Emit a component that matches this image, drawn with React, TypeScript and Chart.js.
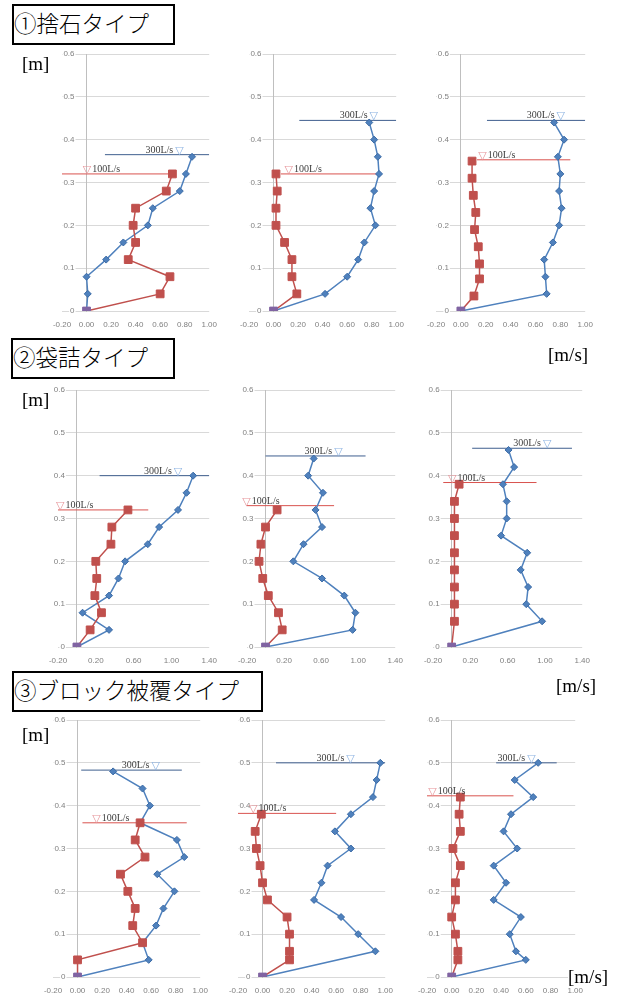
import React, { useEffect, useRef } from 'react';
import { Chart, registerables } from 'chart.js';

Chart.register(...registerables);

// ---------- tick labels ----------
const Y_TICKS = [0, 0.1, 0.2, 0.3, 0.4, 0.5, 0.6];
const X_TICKS_A = [-0.2, 0, 0.2, 0.4, 0.6, 0.8, 1.0];
const X_TICKS_B = [-0.2, 0.2, 0.6, 1.0, 1.4];

// ---------- ① 捨石タイプ ----------
const p1Height300 = [0, 0.04, 0.08, 0.12, 0.16, 0.2, 0.24, 0.28, 0.32, 0.36];
const p1Speed300 = [0, 0.01, 0.0, 0.16, 0.3, 0.5, 0.54, 0.76, 0.81, 0.86];
const p1Height100 = [0, 0.04, 0.08, 0.12, 0.16, 0.2, 0.24, 0.28, 0.32];
const p1Speed100 = [0, 0.6, 0.68, 0.34, 0.4, 0.38, 0.4, 0.65, 0.7];

const p2Height300 = [0, 0.04, 0.08, 0.12, 0.16, 0.2, 0.24, 0.28, 0.32, 0.36, 0.4, 0.44];
const p2Speed300 = [0, 0.42, 0.6, 0.69, 0.74, 0.83, 0.79, 0.82, 0.86, 0.85, 0.82, 0.78];
const p2Height100 = [0, 0.04, 0.08, 0.12, 0.16, 0.2, 0.24, 0.28, 0.32];
const p2Speed100 = [0, 0.19, 0.15, 0.15, 0.09, 0.02, 0.02, 0.03, 0.02];

const p3Height300 = [0, 0.04, 0.08, 0.12, 0.16, 0.2, 0.24, 0.28, 0.32, 0.36, 0.4, 0.44];
const p3Speed300 = [0, 0.69, 0.68, 0.67, 0.74, 0.79, 0.81, 0.79, 0.8, 0.78, 0.83, 0.75];
const p3Height100 = [0, 0.035, 0.075, 0.11, 0.15, 0.19, 0.23, 0.27, 0.31, 0.35];
const p3Speed100 = [0, 0.105, 0.15, 0.15, 0.14, 0.11, 0.12, 0.1, 0.09, 0.09];

// ---------- ② 袋詰タイプ ----------
const p4Height300 = [0, 0.04, 0.08, 0.12, 0.16, 0.2, 0.24, 0.28, 0.32, 0.36, 0.4];
const p4Speed300 = [0, 0.34, 0.06, 0.34, 0.44, 0.51, 0.75, 0.87, 1.07, 1.16, 1.23];
const p4Height100 = [0, 0.04, 0.08, 0.12, 0.16, 0.2, 0.24, 0.28, 0.32];
const p4Speed100 = [0, 0.14, 0.26, 0.19, 0.21, 0.2, 0.36, 0.37, 0.54];

const p5Height300 = [0, 0.04, 0.08, 0.12, 0.16, 0.2, 0.24, 0.28, 0.32, 0.36, 0.4, 0.44];
const p5Speed300 = [0, 0.94, 0.97, 0.85, 0.61, 0.3, 0.41, 0.61, 0.54, 0.62, 0.46, 0.52];
const p5Height100 = [0, 0.04, 0.08, 0.12, 0.16, 0.2, 0.24, 0.28, 0.32];
const p5Speed100 = [0, 0.18, 0.14, 0.03, -0.03, -0.07, -0.05, 0.0, 0.125];

const p6Height300 = [0, 0.06, 0.1, 0.14, 0.18, 0.22, 0.26, 0.3, 0.34, 0.38, 0.42, 0.46];
const p6Speed300 = [0, 0.97, 0.8, 0.82, 0.74, 0.81, 0.53, 0.59, 0.59, 0.55, 0.67, 0.61];
const p6Height100 = [0, 0.06, 0.1, 0.14, 0.18, 0.22, 0.26, 0.3, 0.34, 0.38];
const p6Speed100 = [0, 0.03, 0.03, 0.03, 0.03, 0.03, 0.03, 0.03, 0.03, 0.08];

// ---------- ③ ブロック被覆タイプ ----------
const p7Height300 = [0, 0.04, 0.08, 0.12, 0.16, 0.2, 0.24, 0.28, 0.32, 0.36, 0.4, 0.44, 0.48];
const p7Speed300 = [0, 0.58, 0.53, 0.64, 0.7, 0.79, 0.65, 0.87, 0.81, 0.51, 0.59, 0.53, 0.29];
const p7Height100 = [0, 0.04, 0.08, 0.12, 0.16, 0.2, 0.24, 0.28, 0.32, 0.36];
const p7Speed100 = [0, 0.0, 0.53, 0.45, 0.47, 0.41, 0.35, 0.55, 0.47, 0.51];

const p8Height300 = [0, 0.06, 0.1, 0.14, 0.18, 0.22, 0.26, 0.3, 0.34, 0.38, 0.42, 0.46, 0.5];
const p8Speed300 = [0, 0.92, 0.78, 0.64, 0.42, 0.48, 0.53, 0.72, 0.59, 0.72, 0.9, 0.93, 0.96];
const p8Height100 = [0, 0.04, 0.06, 0.1, 0.14, 0.18, 0.22, 0.26, 0.3, 0.34, 0.38];
const p8Speed100 = [0, 0.22, 0.22, 0.22, 0.2, 0.04, 0.0, -0.02, -0.05, -0.06, -0.01];

const p9Height300 = [0, 0.04, 0.06, 0.1, 0.14, 0.18, 0.22, 0.26, 0.3, 0.34, 0.38, 0.42, 0.46, 0.5];
const p9Speed300 = [0, 0.6, 0.52, 0.47, 0.56, 0.34, 0.44, 0.34, 0.53, 0.42, 0.48, 0.66, 0.51, 0.7];
const p9Height100 = [0, 0.04, 0.06, 0.1, 0.14, 0.18, 0.22, 0.26, 0.3, 0.34, 0.38, 0.42];
const p9Speed100 = [0, 0.05, 0.05, 0.03, 0.0, 0.03, 0.03, 0.07, 0.01, 0.07, 0.06, 0.07];

// water surface levels (m) per panel
const level300 = [0.365, 0.445, 0.445, 0.4, 0.446, 0.464, 0.483, 0.5, 0.5];
const level100 = [0.32, 0.32, 0.353, 0.32, 0.33, 0.384, 0.36, 0.382, 0.423];

// ---------- layout (annotation spans, label anchors, plot areas) ----------
const span300: [number, number][] = [[0.15, 1.0], [0.21, 1.0], [0.21, 1.0], [0.24, 1.4], [0.0, 1.08], [0.22, 1.29], [0.03, 0.85], [0.11, 1.0], [0.36, 0.85]];
const span100: [number, number][] = [[-0.2, 0.73], [0.06, 0.86], [0.13, 0.88], [-0.2, 0.755], [-0.2, 0.74], [-0.09, 0.91], [0.04, 0.89], [-0.2, 0.6], [-0.2, 0.5]];
const label300X = [0.48, 0.54, 0.53, 0.71, 0.42, 0.66, 0.36, 0.44, 0.37];
const label100X = [-0.03, 0.09, 0.14, -0.22, -0.25, -0.04, 0.12, -0.11, -0.19];
const areas = [
  { l: 62, r: 212, t: 54, b: 311 },
  { l: 249, r: 399, t: 54, b: 311 },
  { l: 436, r: 588, t: 54, b: 311 },
  { l: 58, r: 212, t: 390, b: 647 },
  { l: 247, r: 398, t: 390, b: 647 },
  { l: 433, r: 585, t: 390, b: 647 },
  { l: 53, r: 203, t: 720, b: 977 },
  { l: 238, r: 388, t: 720, b: 977 },
  { l: 427, r: 578, t: 720, b: 977 },
];

const BLUE = '#4F81BD';
const RED = '#C0504D';
const PURPLE = '#8064A2';
const LINE300 = '#3F5F8F';
const LINE100 = '#D9534F';
const TRI300 = '#8DB3E2';
const TRI100 = '#E6959A';
const TICK = '#808080';
const GRID = '#D9D9D9';

type Panel = {
  h300: number[]; v300: number[]; h100: number[]; v100: number[];
  idx: number; xMax: number; xTicks: number[];
};

const panels: Panel[] = [
  { h300: p1Height300, v300: p1Speed300, h100: p1Height100, v100: p1Speed100, idx: 0, xMax: 1.0, xTicks: X_TICKS_A },
  { h300: p2Height300, v300: p2Speed300, h100: p2Height100, v100: p2Speed100, idx: 1, xMax: 1.0, xTicks: X_TICKS_A },
  { h300: p3Height300, v300: p3Speed300, h100: p3Height100, v100: p3Speed100, idx: 2, xMax: 1.0, xTicks: X_TICKS_A },
  { h300: p4Height300, v300: p4Speed300, h100: p4Height100, v100: p4Speed100, idx: 3, xMax: 1.4, xTicks: X_TICKS_B },
  { h300: p5Height300, v300: p5Speed300, h100: p5Height100, v100: p5Speed100, idx: 4, xMax: 1.4, xTicks: X_TICKS_B },
  { h300: p6Height300, v300: p6Speed300, h100: p6Height100, v100: p6Speed100, idx: 5, xMax: 1.4, xTicks: X_TICKS_B },
  { h300: p7Height300, v300: p7Speed300, h100: p7Height100, v100: p7Speed100, idx: 6, xMax: 1.0, xTicks: X_TICKS_A },
  { h300: p8Height300, v300: p8Speed300, h100: p8Height100, v100: p8Speed100, idx: 7, xMax: 1.0, xTicks: X_TICKS_A },
  { h300: p9Height300, v300: p9Speed300, h100: p9Height100, v100: p9Speed100, idx: 8, xMax: 1.0, xTicks: X_TICKS_A },
];

const PL = 26, PR = 14, PT = 8, AX = 22, PB = 2;

function ProfileChart({ p }: { p: Panel }) {
  const ref = useRef<HTMLCanvasElement>(null);
  const a = areas[p.idx];
  const w = a.r - a.l + PL + PR;
  const h = a.b - a.t + PT + AX + PB;

  useEffect(() => {
    const i = p.idx;
    const labelPlugin = {
      id: 'surfaceLabels',
      afterDatasetsDraw(chart: any) {
        const ctx = chart.ctx;
        const xs = chart.scales.x;
        const ys = chart.scales.y;
        ctx.save();
        ctx.textBaseline = 'alphabetic';
        ctx.textAlign = 'left';
        // 300 L/s
        let x = xs.getPixelForValue(label300X[i]);
        let y = ys.getPixelForValue(level300[i]) - 2;
        ctx.font = '10px "Liberation Serif"';
        ctx.fillStyle = '#404040';
        ctx.fillText('300L/s', x, y);
        x += ctx.measureText('300L/s').width + 2;
        ctx.font = '11px "DejaVu Sans"';
        ctx.fillStyle = TRI300;
        ctx.fillText('▽', x, y + 1);
        // 100 L/s
        x = xs.getPixelForValue(label100X[i]);
        y = ys.getPixelForValue(level100[i]) - 2;
        ctx.font = '11px "DejaVu Sans"';
        ctx.fillStyle = TRI100;
        ctx.fillText('▽', x, y + 1);
        x += ctx.measureText('▽').width + 1;
        ctx.font = '10px "Liberation Serif"';
        ctx.fillStyle = '#404040';
        ctx.fillText('100L/s', x, y);
        ctx.restore();
      },
    };

    const chart = new Chart(ref.current as HTMLCanvasElement, {
      type: 'scatter',
      data: {
        datasets: [
          {
            data: p.v100.map((v, k) => ({ x: v, y: p.h100[k] })),
            showLine: true,
            borderColor: RED,
            borderWidth: 1.5,
            pointStyle: 'rect',
            pointRadius: 5.5,
            pointBorderWidth: 1,
            pointBackgroundColor: (c: any) => (c.dataIndex === 0 ? PURPLE : RED),
            pointBorderColor: (c: any) => (c.dataIndex === 0 ? PURPLE : RED),
          },
          {
            data: p.v300.map((v, k) => ({ x: v, y: p.h300[k] })),
            showLine: true,
            borderColor: BLUE,
            borderWidth: 1.5,
            pointStyle: 'rectRot',
            pointRadius: 3.5,
            pointBorderWidth: 1,
            pointBackgroundColor: BLUE,
            pointBorderColor: '#3A6AA5',
          },
          {
            data: span300[i].map((v) => ({ x: v, y: level300[i] })),
            showLine: true,
            borderColor: LINE300,
            borderWidth: 1,
            pointRadius: 0,
          },
          {
            data: span100[i].map((v) => ({ x: v, y: level100[i] })),
            showLine: true,
            borderColor: LINE100,
            borderWidth: 1,
            pointRadius: 0,
          },
        ],
      },
      options: {
        responsive: false,
        animation: false,
        devicePixelRatio: 1,
        layout: { padding: { left: PL, right: PR, top: PT, bottom: PB } },
        plugins: { legend: { display: false }, tooltip: { enabled: false } },
        scales: {
          x: {
            type: 'linear',
            min: -0.2,
            max: p.xMax,
            afterBuildTicks: (s: any) => { s.ticks = p.xTicks.map((v) => ({ value: v })); },
            afterFit: (s: any) => { s.height = AX; },
            ticks: {
              callback: (v: any) => Number(v).toFixed(2),
              font: { size: 8, family: '"Liberation Sans"' },
              color: TICK,
              padding: 9,
              maxRotation: 0,
              autoSkip: false,
            },
            grid: { display: false, drawTicks: false },
            border: { display: false },
          },
          y: {
            type: 'linear',
            min: 0,
            max: 0.6,
            position: { x: 0 } as any,
            afterBuildTicks: (s: any) => { s.ticks = Y_TICKS.map((v) => ({ value: v })); },
            ticks: {
              callback: (v: any) => (Number(v) === 0 ? '0' : Number(v).toFixed(1)) + '\u2003\u2002',
              font: { size: 8, family: '"Liberation Sans"' },
              color: TICK,
              padding: 0,
              showLabelBackdrop: true,
              backdropColor: '#ffffff',
              backdropPadding: { left: 1, right: -11, top: 0, bottom: 0 },
            } as any,
            grid: { color: GRID, drawTicks: false, lineWidth: 1 },
            border: { display: true, color: '#BFBFBF' },
          },
        },
      },
      plugins: [labelPlugin],
    } as any);
    return () => chart.destroy();
  }, []);

  return (
    <canvas
      ref={ref}
      width={w}
      height={h}
      style={{ position: 'absolute', left: a.l - PL, top: a.t - PT, width: w, height: h }}
    />
  );
}

const boxStyle = (left: number, top: number, width: number): React.CSSProperties => ({
  position: 'absolute',
  left,
  top,
  width,
  height: 41,
  boxSizing: 'border-box',
  border: '2px solid #000',
  background: '#fff',
  fontFamily: '"Liberation Serif", "Noto Sans CJK JP", serif',
  fontSize: 22.5,
  fontWeight: 300,
  lineHeight: '37px',
  paddingLeft: 0,
  whiteSpace: 'nowrap',
  color: '#000',
  zIndex: 2,
});

const unitStyle = (left: number, top: number): React.CSSProperties => ({
  position: 'absolute',
  left,
  top,
  fontFamily: '"Liberation Serif", serif',
  fontSize: 19,
  lineHeight: '19px',
  color: '#000',
  background: '#fff',
  zIndex: 2,
});

export default function App() {
  return (
    <div style={{ position: 'absolute', left: 0, top: 0, width: 618, height: 998, background: '#fff', overflow: 'hidden' }}>
      {panels.map((p) => (
        <ProfileChart key={p.idx} p={p} />
      ))}
      <div style={boxStyle(12, 4, 163)}>①捨石タイプ</div>
      <div style={boxStyle(11, 338, 164)}>②袋詰タイプ</div>
      <div style={boxStyle(12, 671, 251)}>③ブロック被覆タイプ</div>
      <div style={unitStyle(22, 54)}>[m]</div>
      <div style={unitStyle(22, 390)}>[m]</div>
      <div style={unitStyle(22, 725)}>[m]</div>
      <div style={unitStyle(548, 345)}>[m/s]</div>
      <div style={unitStyle(556, 676)}>[m/s]</div>
      <div style={unitStyle(568, 967)}>[m/s]</div>
    </div>
  );
}
